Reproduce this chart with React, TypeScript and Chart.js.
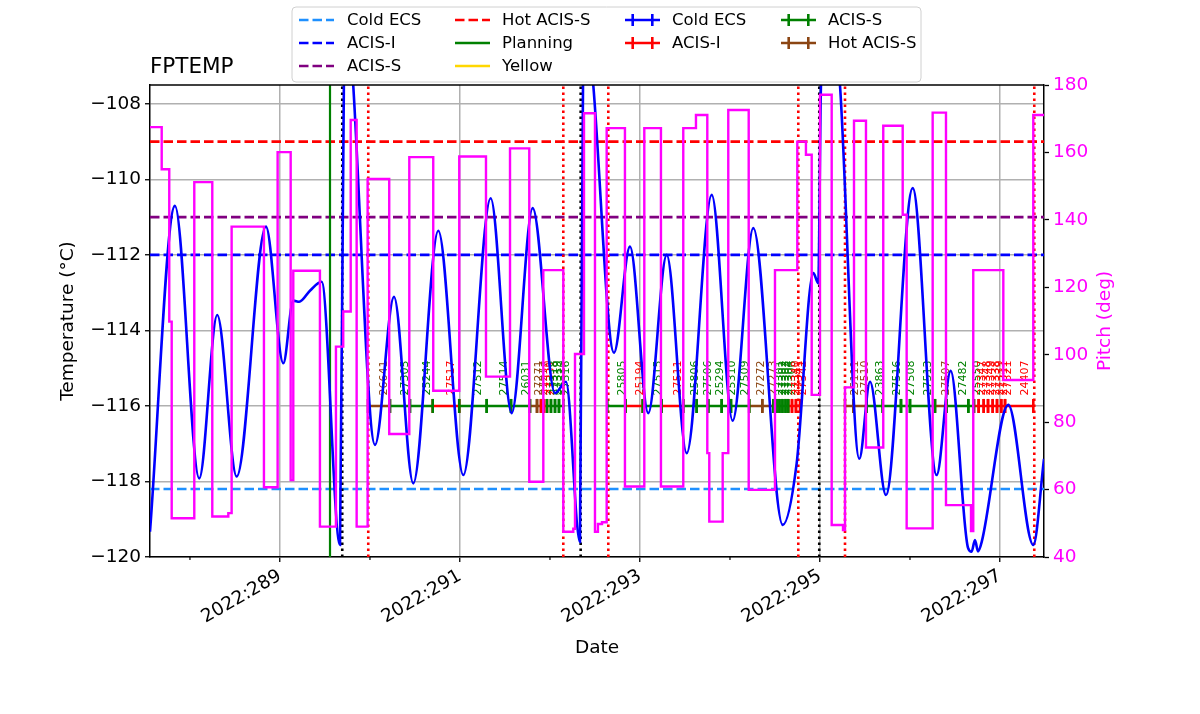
import React, { useEffect, useRef } from 'react';
import { Chart, registerables } from 'chart.js';

Chart.register(...registerables);

// ---------------- data ----------------
const X_MIN = 287.556;
const X_MAX = 297.489;
const Y_MIN = -120;
const Y_MAX = -107.5;
const P_MIN = 40;
const P_MAX = 180;

const xTickDays = [288, 289, 290, 291, 292, 293, 294, 295, 296, 297];
const xTickLabels = ['', '2022:289', '', '2022:291', '', '2022:293', '', '2022:295', '', '2022:297'];

// FPTEMP (deg C) vs day of year
const tempTimes = [
  287.556, 287.833, 288.103, 288.303, 288.519, 288.844, 289.037, 289.148, 289.214, 289.333,
  289.463, 289.667, 289.711, 289.761, 289.814, 290.056, 290.267, 290.481, 290.759, 291.037,
  291.341, 291.574, 291.808, 292.056, 292.178, 292.333, 292.367, 292.422, 292.481, 292.711,
  292.889, 293.092, 293.297, 293.519, 293.797, 294.030, 294.259, 294.586, 294.741, 294.926,
  294.981, 295.011, 295.111, 295.222, 295.437, 295.556, 295.733, 296.030, 296.296, 296.452,
  296.644, 296.685, 296.722, 296.756, 296.797, 297.092, 297.370, 297.489,
];
const tempValues = [
  -119.33, -110.70, -117.92, -113.59, -117.87, -111.25, -114.87, -113.21, -113.24, -112.95,
  -112.71, -119.68, -107.2, -105.5, -107.5, -117.03, -113.11, -118.05, -111.36, -117.83,
  -110.50, -116.19, -110.76, -115.66, -115.36, -119.60, -107.5, -106.0, -107.5, -114.59,
  -111.78, -116.19, -112.00, -117.25, -110.41, -116.39, -111.29, -119.15, -117.52, -112.48,
  -112.75, -107.5, -105.0, -107.5, -117.40, -115.36, -118.36, -110.23, -117.83, -115.07,
  -119.75, -119.86, -119.55, -119.85, -119.60, -115.97, -119.68, -117.40,
];

// Pitch (deg): each value holds from its time until the next time
const pitchTimes = [
  287.556, 287.686, 287.770, 287.797, 288.048, 288.248, 288.426, 288.463, 288.822, 288.974,
  289.119, 289.148, 289.444, 289.622, 289.703, 289.786, 289.852, 289.974, 290.214, 290.437,
  290.703, 290.992, 291.289, 291.556, 291.770, 291.926, 292.148, 292.259, 292.278, 292.378,
  292.500, 292.533, 292.578, 292.630, 292.833, 293.048, 293.233, 293.481, 293.622, 293.748,
  293.770, 293.919, 293.981, 294.208, 294.500, 294.748, 294.844, 294.908, 295.000, 295.130,
  295.256, 295.278, 295.378, 295.511, 295.703, 295.919, 295.963, 296.252, 296.400, 296.678,
  296.703, 297.037, 297.370, 297.489,
];
const pitchValues = [
  167.5, 155.0, 109.8, 51.5, 151.2, 52.0, 53.0, 138.0, 60.7, 160.1,
  62.8, 124.9, 49.0, 102.4, 112.8, 169.6, 49.0, 152.1, 76.5, 158.6,
  89.3, 158.8, 93.5, 161.2, 62.3, 125.1, 47.5, 48.4, 100.2, 171.6,
  47.5, 49.8, 50.3, 167.2, 60.9, 167.2, 60.9, 167.2, 171.1, 70.8,
  50.5, 70.8, 172.6, 59.9, 125.1, 163.2, 159.3, 88.1, 177.1, 49.5,
  48.0, 90.3, 169.4, 72.5, 167.9, 141.5, 48.5, 171.8, 55.4, 47.7,
  125.1, 92.5, 171.1, 171.1,
];

// temperature limit lines
const limitNames = ['Cold ECS', 'ACIS-I', 'ACIS-S', 'Hot ACIS-S'];
const limitValues = [-118.2, -112.0, -111.0, -109.0];
const limitColors = ['#1e90ff', '#0000ff', '#800080', '#ff0000'];

// vertical event lines (day of year)
const planningLineTimes = [289.556];
const blackLineTimes = [289.692, 292.341, 294.992];
const redLineTimes = [289.981, 292.148, 292.648, 294.759, 295.278, 297.381];

// observations
const OBSID_LEVEL = -116;
const obsidIds = [
  '26641', '27305', '25244', '27517', '27512', '27514', '26031', '27271', '27277', '27330',
  '27331', '27318', '27319', '27320', '27316', '25805', '25194', '27515', '27511', '25806',
  '27506', '25294', '25310', '27509', '27272', '27273', '27301', '27302', '27303', '27304',
  '27306', '27340', '27341', '27342', '25111', '27510', '23863', '27516', '27508', '27513',
  '27507', '27482', '25550', '27347', '27348', '27349', '27338', '27339', '27311', '27321',
  '24407',
];
const obsidStarts = [
  289.978, 290.222, 290.444, 290.697, 290.992, 291.297, 291.567, 291.778, 291.856, 291.900,
  291.933, 291.967, 292.011, 292.056, 292.100, 292.637, 292.841, 293.030, 293.241, 293.481,
  293.630, 293.759, 293.908, 294.011, 294.214, 294.359, 294.481, 294.517, 294.550, 294.583,
  294.617, 294.648, 294.689, 294.733, 295.278, 295.370, 295.519, 295.697, 295.900, 296.000,
  296.278, 296.408, 296.648, 296.711, 296.763, 296.819, 296.867, 296.919, 296.967, 297.014,
  297.056,
];
const obsidStops = [
  290.222, 290.444, 290.697, 290.992, 291.297, 291.567, 291.778, 291.856, 291.900, 291.933,
  291.967, 292.011, 292.056, 292.100, 292.148, 292.841, 293.030, 293.241, 293.481, 293.630,
  293.759, 293.908, 294.011, 294.214, 294.359, 294.481, 294.517, 294.550, 294.583, 294.617,
  294.648, 294.689, 294.733, 294.778, 295.370, 295.519, 295.697, 295.900, 296.000, 296.278,
  296.408, 296.648, 296.711, 296.763, 296.819, 296.867, 296.919, 296.967, 297.014, 297.056,
  297.370,
];
const obsidKinds = [
  'H', 'S', 'S', 'I', 'S', 'S', 'S', 'H', 'H', 'I',
  'I', 'S', 'S', 'S', 'S', 'S', 'I', 'S', 'I', 'S',
  'S', 'S', 'S', 'S', 'H', 'H', 'S', 'S', 'S', 'S',
  'S', 'I', 'I', 'I', 'H', 'H', 'S', 'S', 'S', 'S',
  'H', 'S', 'S', 'I', 'I', 'I', 'I', 'I', 'I', 'I',
  'I',
];
const kindColors: Record<string, string> = { S: '#008000', I: '#ff0000', H: '#8b4513', C: '#0000ff' };

// legend entries (column-major, 3 rows)
const legendLabels = ['Cold ECS', 'ACIS-I', 'ACIS-S', 'Hot ACIS-S', 'Planning', 'Yellow', 'Cold ECS', 'ACIS-I', 'ACIS-S', 'Hot ACIS-S'];
const legendColors = ['#1e90ff', '#0000ff', '#800080', '#ff0000', '#008000', '#ffd700', '#0000ff', '#ff0000', '#008000', '#8b4513'];
const legendStyles = ['dash', 'dash', 'dash', 'dash', 'solid', 'solid', 'err', 'err', 'err', 'err'];
const legendCols = [0, 0, 0, 1, 1, 1, 2, 2, 3, 3];
const legendRows = [0, 1, 2, 0, 1, 2, 0, 1, 0, 1];

// ---------------- layout / style ----------------
const FONT = '"DejaVu Sans", sans-serif';
const LEG_BOX = { x: 292, y: 7, w: 629, h: 75 };
const LEG_ROW_Y = [20, 43, 66];
const LEG_HANDLE_X = [299, 455, 625, 781];
const LEG_TEXT_X = [347, 502, 672, 828];
const LEG_HANDLE_W = 35;

const isMajorDay = (v: number) => {
  const i = xTickDays.indexOf(v);
  return i >= 0 && xTickLabels[i] !== '';
};

function buildDatasets() {
  const ds: any[] = [];
  ds.push({
    label: 'Pitch',
    data: pitchTimes.map((t, i) => ({ x: t, y: pitchValues[i] })),
    yAxisID: 'y2',
    borderColor: '#ff00ff',
    borderWidth: 2.4,
    stepped: 'before',
    pointRadius: 0,
    order: 0,
  });
  ds.push({
    label: 'FPTEMP',
    data: tempTimes.map((t, i) => ({ x: t, y: tempValues[i] })),
    yAxisID: 'y',
    borderColor: '#0000ff',
    borderWidth: 2.6,
    cubicInterpolationMode: 'monotone',
    pointRadius: 0,
    order: 1,
  });
  (['S', 'I', 'H'] as const).forEach((k) => {
    const pts: any[] = [];
    obsidIds.forEach((_, i) => {
      if (obsidKinds[i] !== k) return;
      pts.push({ x: obsidStarts[i], y: OBSID_LEVEL });
      pts.push({ x: obsidStops[i], y: OBSID_LEVEL });
      pts.push({ x: obsidStops[i], y: null });
    });
    ds.push({
      label: 'obs-' + k,
      data: pts,
      yAxisID: 'y',
      borderColor: kindColors[k],
      backgroundColor: kindColors[k],
      borderWidth: 2.6,
      pointStyle: 'line',
      pointRotation: 90,
      pointRadius: 7,
      pointBorderWidth: 2.6,
      pointBorderColor: kindColors[k],
      spanGaps: false,
      order: 2,
    });
  });
  const vline = (times: number[], color: string, dash: number[], width: number, label: string) => {
    const pts: any[] = [];
    times.forEach((t) => {
      pts.push({ x: t, y: Y_MIN });
      pts.push({ x: t, y: Y_MAX });
      pts.push({ x: t, y: null });
    });
    ds.push({
      label,
      data: pts,
      yAxisID: 'y',
      borderColor: color,
      borderWidth: width,
      borderDash: dash,
      pointRadius: 0,
      spanGaps: false,
      order: 3,
    });
  };
  vline(planningLineTimes, '#008000', [], 2.2, 'planning-line');
  vline(blackLineTimes, '#000000', [2.6, 3.4], 2.6, 'black-lines');
  vline(redLineTimes, '#ff0000', [2.6, 3.4], 2.6, 'red-lines');
  limitValues.forEach((v, i) => {
    ds.push({
      label: limitNames[i],
      data: [{ x: X_MIN, y: v }, { x: X_MAX, y: v }],
      yAxisID: 'y',
      borderColor: limitColors[i],
      borderWidth: 2.6,
      borderDash: [9.5, 4],
      pointRadius: 0,
      order: 4,
    });
  });
  return ds;
}

const decorPlugin = {
  id: 'decor',
  beforeDatasetsDraw(chart: any) {
    const { ctx, scales } = chart;
    const x = scales.x;
    const y = scales.y;
    ctx.save();
    ctx.font = `11px ${FONT}`;
    ctx.textAlign = 'left';
    ctx.textBaseline = 'top';
    const py = y.getPixelForValue(OBSID_LEVEL + 0.28);
    obsidIds.forEach((id, i) => {
      const px = x.getPixelForValue((obsidStarts[i] + obsidStops[i]) / 2);
      ctx.save();
      ctx.translate(px, py);
      ctx.rotate(-Math.PI / 2);
      ctx.fillStyle = kindColors[obsidKinds[i]];
      ctx.fillText(id, 0, 0);
      ctx.restore();
    });
    ctx.restore();
  },
  afterDraw(chart: any) {
    const { ctx, chartArea, scales } = chart;
    ctx.save();
    // top spine
    ctx.strokeStyle = '#000';
    ctx.lineWidth = 1.5;
    ctx.beginPath();
    ctx.moveTo(chartArea.left, chartArea.top);
    ctx.lineTo(chartArea.right, chartArea.top);
    ctx.stroke();

    // minor x ticks (shorter)
    ctx.lineWidth = 1.2;
    xTickDays.forEach((d) => {
      if (isMajorDay(d)) return;
      const px = scales.x.getPixelForValue(d);
      ctx.beginPath();
      ctx.moveTo(px, chartArea.bottom);
      ctx.lineTo(px, chartArea.bottom + 3);
      ctx.stroke();
    });

    // title
    ctx.fillStyle = '#000';
    ctx.font = `21.5px ${FONT}`;
    ctx.textAlign = 'left';
    ctx.textBaseline = 'alphabetic';
    ctx.fillText('FPTEMP', chartArea.left, 73);

    // axis titles
    ctx.font = `18.5px ${FONT}`;
    ctx.textAlign = 'center';
    ctx.textBaseline = 'middle';
    ctx.fillText('Date', (chartArea.left + chartArea.right) / 2, 648);
    const cy = (chartArea.top + chartArea.bottom) / 2;
    ctx.save();
    ctx.translate(68, cy);
    ctx.rotate(-Math.PI / 2);
    ctx.fillText('Temperature (°C)', 0, 0);
    ctx.restore();
    ctx.save();
    ctx.translate(1105, cy);
    ctx.rotate(-Math.PI / 2);
    ctx.fillStyle = '#ff00ff';
    ctx.fillText('Pitch (deg)', 0, 0);
    ctx.restore();

    // legend
    const r = 4;
    const b = LEG_BOX;
    ctx.beginPath();
    ctx.moveTo(b.x + r, b.y);
    ctx.lineTo(b.x + b.w - r, b.y);
    ctx.arcTo(b.x + b.w, b.y, b.x + b.w, b.y + r, r);
    ctx.lineTo(b.x + b.w, b.y + b.h - r);
    ctx.arcTo(b.x + b.w, b.y + b.h, b.x + b.w - r, b.y + b.h, r);
    ctx.lineTo(b.x + r, b.y + b.h);
    ctx.arcTo(b.x, b.y + b.h, b.x, b.y + b.h - r, r);
    ctx.lineTo(b.x, b.y + r);
    ctx.arcTo(b.x, b.y, b.x + r, b.y, r);
    ctx.closePath();
    ctx.fillStyle = 'rgba(255,255,255,0.8)';
    ctx.fill();
    ctx.strokeStyle = '#d0d0d0';
    ctx.lineWidth = 1;
    ctx.stroke();

    ctx.font = `16.5px ${FONT}`;
    ctx.textAlign = 'left';
    ctx.textBaseline = 'middle';
    legendLabels.forEach((lab, i) => {
      const col = legendCols[i];
      const ry = LEG_ROW_Y[legendRows[i]];
      const hx = LEG_HANDLE_X[col];
      ctx.strokeStyle = legendColors[i];
      ctx.lineWidth = 2.6;
      ctx.setLineDash(legendStyles[i] === 'dash' ? [9.5, 4] : []);
      ctx.beginPath();
      ctx.moveTo(hx, ry);
      ctx.lineTo(hx + LEG_HANDLE_W, ry);
      ctx.stroke();
      ctx.setLineDash([]);
      if (legendStyles[i] === 'err') {
        [hx + LEG_HANDLE_W * 0.22, hx + LEG_HANDLE_W * 0.78].forEach((cx) => {
          ctx.beginPath();
          ctx.moveTo(cx, ry - 6);
          ctx.lineTo(cx, ry + 6);
          ctx.stroke();
        });
      }
      ctx.fillStyle = '#000';
      ctx.fillText(lab, LEG_TEXT_X[col], ry + 1);
    });
    ctx.restore();
  },
};

const minus = (v: number) => (v < 0 ? '\u2212' + Math.abs(v) : String(v));

export default function App() {
  const ref = useRef<HTMLCanvasElement>(null);
  useEffect(() => {
    if (!ref.current) return;
    Chart.defaults.font.family = FONT;
    const chart = new Chart(ref.current, {
      type: 'line',
      data: { datasets: buildDatasets() },
      plugins: [decorPlugin],
      options: {
        animation: false,
        responsive: false,
        events: [],
        layout: { padding: { top: 85, left: 0, right: 0, bottom: 0 } },
        plugins: {
          legend: { display: false },
          tooltip: { enabled: false },
          title: { display: false },
        },
        scales: {
          x: {
            type: 'linear',
            position: 'bottom',
            min: X_MIN,
            max: X_MAX,
            afterFit: (s: any) => {
              s.height = 157;
            },
            afterBuildTicks: (s: any) => {
              s.ticks = xTickDays.map((v) => ({ value: v }));
            },
            ticks: {
              autoSkip: false,
              maxRotation: 30,
              minRotation: 30,
              padding: 3,
              color: '#000',
              font: { size: 18.5, family: FONT },
              callback: (v: any) => {
                const i = xTickDays.indexOf(Number(v));
                return i >= 0 ? xTickLabels[i] : '';
              },
            },
            grid: {
              color: (c: any) => (c.tick && isMajorDay(c.tick.value) ? '#b0b0b0' : 'rgba(0,0,0,0)'),
              lineWidth: 1.5,
              tickColor: (c: any) => (c.tick && isMajorDay(c.tick.value) ? '#000' : 'rgba(0,0,0,0)'),
              tickLength: 5,
              tickWidth: 1.3,
            },
            border: { color: '#000', width: 1.5 },
          },
          y: {
            type: 'linear',
            position: 'left',
            min: Y_MIN,
            max: Y_MAX,
            afterFit: (s: any) => {
              s.width = 150;
            },
            ticks: {
              stepSize: 2,
              includeBounds: false,
              padding: 4,
              color: '#000',
              font: { size: 18.5, family: FONT },
              callback: (v: any) => minus(Number(v)),
            },
            grid: {
              color: '#b0b0b0',
              lineWidth: 1.5,
              tickColor: '#000',
              tickLength: 5,
              tickWidth: 1.3,
            },
            border: { color: '#000', width: 1.5 },
          },
          y2: {
            type: 'linear',
            position: 'right',
            min: P_MIN,
            max: P_MAX,
            afterFit: (s: any) => {
              s.width = 156;
            },
            ticks: {
              stepSize: 20,
              includeBounds: false,
              padding: 4,
              color: '#ff00ff',
              font: { size: 18.5, family: FONT },
            },
            grid: {
              drawOnChartArea: false,
              tickColor: '#000',
              tickLength: 5,
              tickWidth: 1.3,
            },
            border: { color: '#000', width: 1.5 },
          },
        },
      } as any,
    });
    return () => chart.destroy();
  }, []);
  return (
    <div style={{ position: 'absolute', left: 0, top: 0, width: 1200, height: 714, background: '#fff' }}>
      <canvas ref={ref} width={1200} height={714} style={{ width: 1200, height: 714, display: 'block' }} />
    </div>
  );
}
